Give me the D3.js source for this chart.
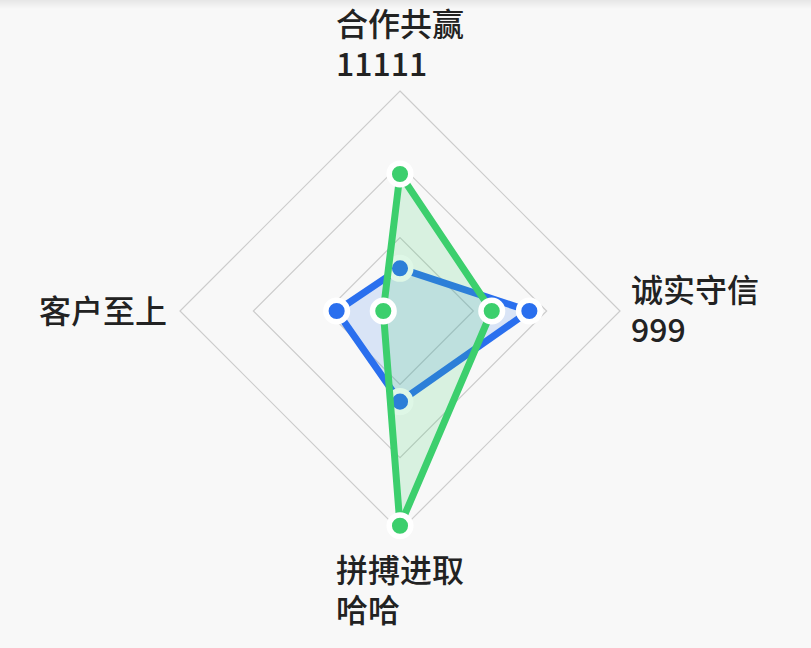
<!DOCTYPE html>
<html><head><meta charset="utf-8">
<script src="https://cdn.jsdelivr.net/npm/d3@7/dist/d3.min.js"></script>
<style>
html,body{margin:0;padding:0;background:#f8f8f8;}
svg{display:block;}
</style></head>
<body>
<svg id="chart" width="811" height="648"></svg>
<script>
const indicators = ["合作共赢", "诚实守信", "拼搏进取", "客户至上"];
const subLabels = ["11111", "999", "哈哈", ""];
const maxValue = 100;
const seriesNames = ["A", "B"];
const seriesBlue = [19.4, 58.8, 41.2, 28.8];
const seriesGreen = [62.3, 41.7, 97.6, 7.6];
const gridLevels = [1, 2, 3];
const colors = ["#2a6fee", "#3ccf6d"];

const svg = d3.select("#chart");
const cx = 400, cy = 311, R = 220;

const defs = svg.append("defs");
const lg = defs.append("linearGradient").attr("id","topShade").attr("x1",0).attr("y1",0).attr("x2",0).attr("y2",1);
lg.append("stop").attr("offset","0%").attr("stop-color","#e6e6e6");
lg.append("stop").attr("offset","100%").attr("stop-color","#f8f8f8");
svg.append("rect").attr("x",0).attr("y",0).attr("width",811).attr("height",648).attr("fill","#f8f8f8");
svg.append("rect").attr("x",0).attr("y",0).attr("width",811).attr("height",9).attr("fill","url(#topShade)");

const rScale = d3.scaleLinear().domain([0, maxValue]).range([0, R]);
const angle = d3.scalePoint().domain(d3.range(indicators.length)).range([0, 2*Math.PI*(indicators.length-1)/indicators.length]);
function pt(i, v){ const a = angle(i) - Math.PI/2; return [cx + rScale(v)*Math.cos(a), cy + rScale(v)*Math.sin(a)]; }

const g = svg.append("g");
gridLevels.forEach(l => {
  const v = maxValue * l / gridLevels.length;
  g.append("path")
    .attr("d", d3.line()(indicators.map((_, i) => pt(i, v))) + "Z")
    .attr("fill","none").attr("stroke","#cccccc").attr("stroke-width",1.2);
});

const lineGen = d3.line().curve(d3.curveLinearClosed);
[seriesBlue, seriesGreen].forEach((vals, si) => {
  const pts = vals.map((v, i) => pt(i, v));
  const sg = g.append("g");
  sg.append("path").attr("d", lineGen(pts))
    .attr("fill", colors[si]).attr("fill-opacity", si === 0 ? 0.15 : 0.17)
    .attr("stroke", "none");
  sg.append("path").attr("d", lineGen(pts))
    .attr("fill", "none").attr("stroke", colors[si]).attr("stroke-width", 7)
    .attr("stroke-linejoin","round");
  sg.selectAll("circle").data(pts).join("circle")
    .attr("cx", d => d[0]).attr("cy", d => d[1]).attr("r", 10.8)
    .attr("fill", colors[si]).attr("stroke", "#ffffff").attr("stroke-width", 5.5);
});

const fs = 32, lh = 40;
const font = "'Noto Sans CJK SC', 'Noto Sans', sans-serif";
const weight = 500;
const measure = svg.append("text").attr("font-size", fs).attr("font-weight",weight).attr("font-family", font).attr("visibility","hidden");
function textWidth(s){ measure.text(s); return measure.node().getComputedTextLength(); }

indicators.forEach((name, i) => {
  const lines = subLabels[i] ? [name, subLabels[i]] : [name];
  const w = d3.max(lines, s => textWidth(s));
  const [vx, vy] = pt(i, maxValue);
  let x, yFirst;
  const n = lines.length;
  if (i === 0) {
    x = cx - w/2; yFirst = vy - 15 - (n-1)*lh;
  } else if (i === 2) {
    x = cx - w/2; yFirst = vy + 51;
  } else if (i === 1) {
    x = vx + 11; yFirst = vy + 11 - (n-1)*lh/2;
  } else {
    x = vx - 13 - w; yFirst = vy + 12 - (n-1)*lh/2;
  }
  lines.forEach((s, k) => {
    svg.append("text").attr("font-size", fs).attr("font-weight",weight)
      .attr("font-family", font).attr("fill","#222222")
      .attr("x", x).attr("y", yFirst + k*lh).text(s);
  });
});
measure.remove();
</script>
</body></html>
